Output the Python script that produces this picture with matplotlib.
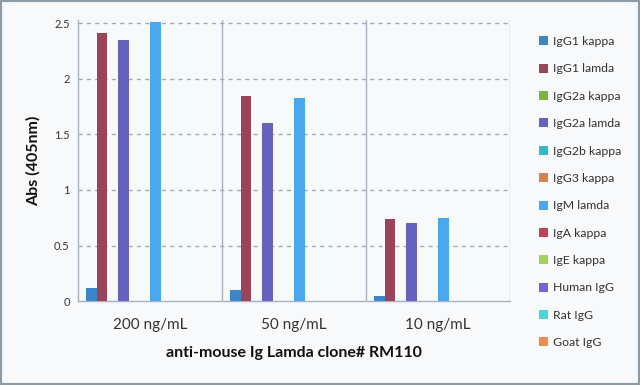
import matplotlib
matplotlib.use("Agg")
import matplotlib.pyplot as plt
from matplotlib.patches import Patch, Rectangle
import numpy as np

plt.rcParams['font.family'] = ['Lato', 'DejaVu Sans']

groups = ["200 ng/mL", "50 ng/mL", "10 ng/mL"]
series = ["IgG1 kappa", "IgG1 lamda", "IgG2a kappa", "IgG2a lamda", "IgG2b kappa",
          "IgG3 kappa", "IgM lamda", "IgA kappa", "IgE kappa", "Human IgG",
          "Rat IgG", "Goat IgG"]
colors = ["#3a86c9", "#9a4459", "#7cb542", "#6762bd", "#35b9c6", "#d3834b",
          "#4aa8ee", "#c2415b", "#9fd35a", "#7463d0", "#4cd4db", "#ef8d4f"]
values = [
    [0.12, 0.10, 0.05],    # IgG1 kappa
    [2.41, 1.85, 0.74],    # IgG1 lamda
    [0.005, 0.0, 0.0],     # IgG2a kappa
    [2.35, 1.60, 0.70],    # IgG2a lamda
    [0.005, 0.0, 0.0],     # IgG2b kappa
    [0.005, 0.0, 0.0],     # IgG3 kappa
    [2.51, 1.83, 0.75],    # IgM lamda
    [0.0, 0.0, 0.0],       # IgA kappa
    [0.0, 0.0, 0.0],       # IgE kappa
    [0.0, 0.0, 0.0],       # Human IgG
    [0.0, 0.0, 0.0],       # Rat IgG
    [0.0, 0.0, 0.0],       # Goat IgG
]
yticks = [0, 0.5, 1, 1.5, 2, 2.5]
ytick_labels = ["0", "0.5", "1", "1.5", "2", "2.5"]

bg = "#f8f9fb"
fig = plt.figure(figsize=(6.4, 3.85), dpi=100, facecolor=bg)
ax = fig.add_axes([0.122, 0.218, 0.675, 0.730])
ax.set_facecolor(bg)

x = np.arange(len(groups))
w = 0.074
n = len(series)
for i, (name, col, vals) in enumerate(zip(series, colors, values)):
    ax.bar(x + (i - n / 2) * w, vals, width=w, align='edge', color=col, zorder=3, label=name)

ax.set_xlim(-0.5, len(groups) - 0.5)
ax.set_ylim(0, 2.53)
ax.set_yticks(yticks)
ax.set_yticklabels(ytick_labels)
ax.set_xticks(x)
ax.set_xticklabels(groups)
ax.tick_params(axis='y', length=0, labelsize=8, colors='#333333', pad=6)
ax.tick_params(axis='x', length=0, labelsize=11, colors='#333333', pad=12)

for yv in yticks[1:]:
    ax.axhline(yv, color='#a0acb6', lw=1.0, ls=(0, (3, 3)), zorder=1)
for xv in x[:-1] + 0.5:
    ax.axvline(xv, color='#a6b3be', lw=1.0, zorder=1)

for s in ['top', 'right']:
    ax.spines[s].set_visible(False)
ax.spines['left'].set_color('#a6b3be')
ax.spines['bottom'].set_color('#a6b3be')
ax.spines['left'].set_linewidth(1.0)
ax.spines['bottom'].set_linewidth(1.0)
ax.axvline(len(groups) - 0.5, color='#a6b3be', lw=1.0, zorder=1)

ax.set_ylabel("Abs (405nm)", fontsize=11.5, fontweight='bold', color='#111111', labelpad=10)
ax.set_xlabel("anti-mouse Ig Lamda clone# RM110", fontsize=11.5, fontweight='bold',
              color='#111111', labelpad=10)

handles = [Patch(facecolor=c, edgecolor='none') for c in colors]
fig.legend(handles, series, loc='upper left', bbox_to_anchor=(0.825, 0.935),
           frameon=False, fontsize=8.8, labelspacing=1.34, handlelength=0.75,
           handleheight=0.75, handletextpad=0.4, labelcolor='#333333')

fig.patches.append(Rectangle((0, 0), 1, 1, transform=fig.transFigure, fill=False,
                             edgecolor='#8c9ba6', lw=3, zorder=10))

fig.savefig("out.png", dpi=100, facecolor=bg)
